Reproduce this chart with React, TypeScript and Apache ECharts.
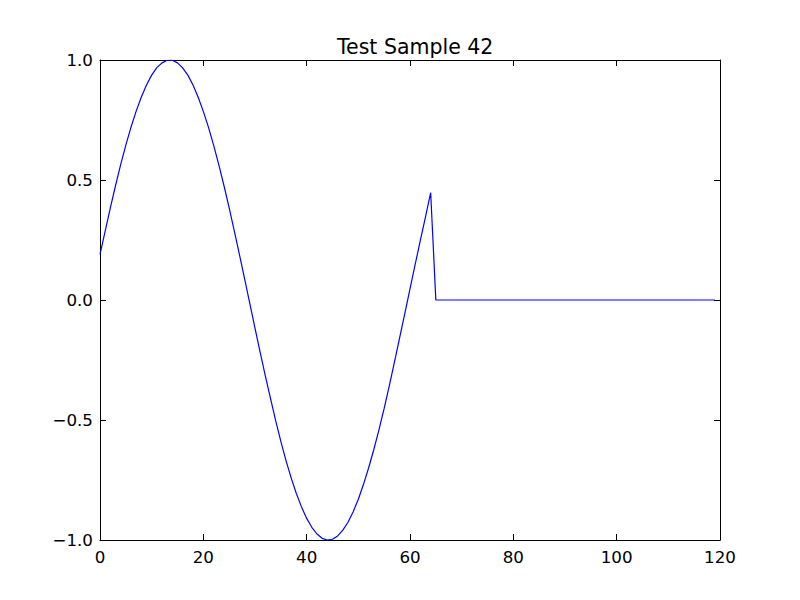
import React, { useEffect, useRef } from "react";
import * as echarts from "echarts";

const titleText = "Test Sample 42";
const xTicks = [0, 20, 40, 60, 80, 100, 120];
const yTicks = [-1.0, -0.5, 0.0, 0.5, 1.0];

// Sample values, one per integer step starting at x = 0
const waveValues = [
  0.19, 0.287, 0.384, 0.476, 0.564, 0.645, 0.72, 0.787, 0.846, 0.896,
  0.937, 0.968, 0.988, 0.999, 0.999, 0.988, 0.967, 0.937, 0.896, 0.845,
  0.786, 0.719, 0.644, 0.563, 0.476, 0.384, 0.287, 0.188, 0.087, -0.015,
  -0.117, -0.218, -0.316, -0.41, -0.503, -0.589, -0.669, -0.741, -0.806, -0.862,
  -0.91, -0.947, -0.975, -0.993, -1.0, -0.997, -0.983, -0.959, -0.926, -0.882,
  -0.83, -0.768, -0.699, -0.623, -0.54, -0.452, -0.357, -0.258, -0.157, -0.056,
  0.046, 0.148, 0.248, 0.346, 0.447,
];
const tailValues = [
  0, 0, 0, 0, 0, 0, 0, 0, 0, 0,
  0, 0, 0, 0, 0, 0, 0, 0, 0, 0,
  0, 0, 0, 0, 0, 0, 0, 0, 0, 0,
  0, 0, 0, 0, 0, 0, 0, 0, 0, 0,
  0, 0, 0, 0, 0, 0, 0, 0, 0, 0,
  0, 0, 0, 0, 0,
];

const FONT = "DejaVu Sans";

export default function App() {
  const ref = useRef<HTMLDivElement>(null);

  useEffect(() => {
    if (!ref.current) return;
    const chart = echarts.init(ref.current, null, { renderer: "svg" });
    const values = [...waveValues, ...tailValues];
    const data = values.map((v, i) => [i, v]);

    const fmtY = (v: number) => {
      const s = Math.abs(v).toFixed(1);
      return v < 0 ? "\u2212" + s : s;
    };

    const axisLine = { show: true, onZero: false, lineStyle: { color: "#000", width: 1 } };
    const axisTick = { show: true, inside: true, length: 6, lineStyle: { color: "#000", width: 1 } };

    chart.setOption({
      animation: false,
      backgroundColor: "#fff",
      title: {
        text: titleText,
        left: 332,
        top: 31,
        textStyle: { fontFamily: FONT, fontSize: 20.5, fontWeight: "normal", color: "#000" },
      },
      grid: { left: 100, right: 80, top: 60, bottom: 60, containLabel: false },
      xAxis: [
        {
          type: "value",
          min: xTicks[0],
          max: xTicks[xTicks.length - 1],
          interval: 20,
          position: "bottom",
          axisLine,
          axisTick,
          splitLine: { show: false },
          axisLabel: {
            show: true,
            margin: 8,
            color: "#000",
            fontFamily: FONT,
            fontSize: 16.7,
            formatter: (v: number) => String(v),
          },
        },
        {
          type: "value",
          min: xTicks[0],
          max: xTicks[xTicks.length - 1],
          interval: 20,
          position: "top",
          axisLine,
          axisTick,
          splitLine: { show: false },
          axisLabel: { show: false },
        },
      ],
      yAxis: [
        {
          type: "value",
          min: yTicks[0],
          max: yTicks[yTicks.length - 1],
          interval: 0.5,
          position: "left",
          axisLine,
          axisTick,
          splitLine: { show: false },
          axisLabel: {
            show: true,
            margin: 7,
            color: "#000",
            fontFamily: FONT,
            fontSize: 16.7,
            formatter: fmtY,
          },
        },
        {
          type: "value",
          min: yTicks[0],
          max: yTicks[yTicks.length - 1],
          interval: 0.5,
          position: "right",
          axisLine,
          axisTick,
          splitLine: { show: false },
          axisLabel: { show: false },
        },
      ],
      series: [
        {
          type: "line",
          data,
          xAxisIndex: 0,
          yAxisIndex: 0,
          showSymbol: false,
          symbol: "none",
          lineStyle: { color: "#0000ff", width: 1.2 },
          z: 1,
        },
      ],
    });
    return () => chart.dispose();
  }, []);

  return (
    <div
      ref={ref}
      style={{ position: "fixed", left: 0, top: 0, width: 800, height: 600, background: "#fff" }}
    />
  );
}
